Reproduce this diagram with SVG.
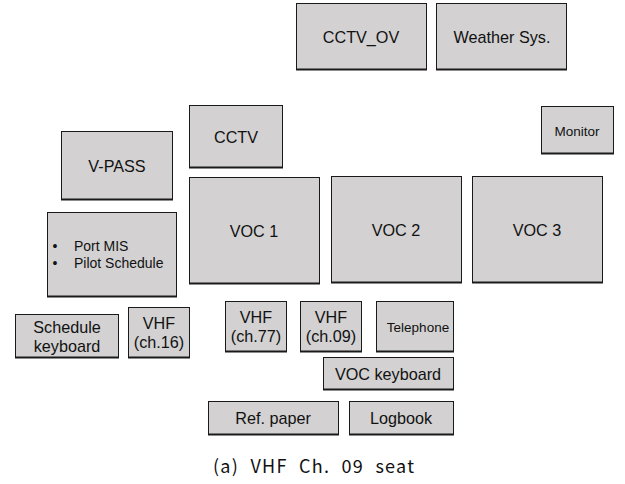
<svg xmlns="http://www.w3.org/2000/svg" width="625" height="484" viewBox="0 0 625 484">
<style>
.b{fill:#d3d1d2;stroke:#1a1a1a;stroke-width:1}
.s{fill:#1a1a1a}
text{font-family:"Liberation Sans",Arial,sans-serif;fill:#111;text-anchor:middle;dominant-baseline:central}
.m{font-size:16.2px}
.sm{font-size:13.5px}
.pm{font-size:14px}
.cap{font-family:"Noto Sans CJK KR","DejaVu Sans",sans-serif;font-size:18px;font-weight:400;word-spacing:6px}
</style>
<rect width="625" height="484" fill="#fff"/>
<g id="cctv_ov"><rect class="s" x="296" y="4.5" width="131" height="66"/><rect class="b" x="296.5" y="3.5" width="130" height="65.5"/><text class="m" x="361" y="37">CCTV_OV</text></g>
<g id="weather"><rect class="s" x="436" y="4.5" width="131" height="66"/><rect class="b" x="436.5" y="3.5" width="130" height="65.5"/><text class="m" x="502" y="37">Weather Sys.</text></g>
<g id="monitor"><rect class="s" x="541" y="107.5" width="73" height="47"/><rect class="b" x="541.5" y="106.5" width="72" height="46.5"/><text class="sm" x="577" y="131">Monitor</text></g>
<g id="cctv"><rect class="s" x="189" y="106.5" width="94" height="62"/><rect class="b" x="189.5" y="105.5" width="93" height="61.5"/><text class="m" x="236" y="137">CCTV</text></g>
<g id="vpass"><rect class="s" x="61" y="132.5" width="112" height="68"/><rect class="b" x="61.5" y="131.5" width="111" height="67.5"/><text class="m" x="117" y="166">V-PASS</text></g>
<g id="portmis"><rect class="s" x="47" y="213.5" width="130" height="84"/><rect class="b" x="47.5" y="212.5" width="129" height="83.5"/>
<text class="pm" x="55" y="246">•</text><text class="pm" x="74" y="246" style="text-anchor:start">Port MIS</text>
<text class="pm" x="55" y="263">•</text><text class="pm" x="74" y="263" style="text-anchor:start">Pilot Schedule</text></g>
<g id="voc1"><rect class="s" x="189" y="178.5" width="131" height="106"/><rect class="b" x="189.5" y="177.5" width="130" height="105.5"/><text class="m" x="254" y="231">VOC 1</text></g>
<g id="voc2"><rect class="s" x="331" y="177.5" width="131" height="106"/><rect class="b" x="331.5" y="176.5" width="130" height="105.5"/><text class="m" x="396" y="230">VOC 2</text></g>
<g id="voc3"><rect class="s" x="472" y="177.5" width="131" height="106"/><rect class="b" x="472.5" y="176.5" width="130" height="105.5"/><text class="m" x="537" y="230">VOC 3</text></g>
<g id="schedkb"><rect class="s" x="15" y="315.5" width="104" height="43"/><rect class="b" x="15.5" y="314.5" width="103" height="42.5"/><text class="m" x="67" y="327">Schedule</text><text class="m" x="67" y="346">keyboard</text></g>
<g id="vhf16"><rect class="s" x="128" y="308.5" width="62" height="50"/><rect class="b" x="128.5" y="307.5" width="61" height="49.5"/><text class="m" x="159" y="323">VHF</text><text class="m" x="159" y="342">(ch.16)</text></g>
<g id="vhf77"><rect class="s" x="225" y="302.5" width="62" height="50"/><rect class="b" x="225.5" y="301.5" width="61" height="49.5"/><text class="m" x="256" y="317">VHF</text><text class="m" x="256" y="336">(ch.77)</text></g>
<g id="vhf09"><rect class="s" x="300" y="302.5" width="62" height="50"/><rect class="b" x="300.5" y="301.5" width="61" height="49.5"/><text class="m" x="331" y="317">VHF</text><text class="m" x="331" y="336">(ch.09)</text></g>
<g id="telephone"><rect class="s" x="376" y="302.5" width="78" height="50"/><rect class="b" x="376.5" y="301.5" width="77" height="49.5"/><text class="sm" x="418" y="327">Telephone</text></g>
<g id="vockb"><rect class="s" x="323" y="358.5" width="131" height="32"/><rect class="b" x="323.5" y="357.5" width="130" height="31.5"/><text class="m" x="388" y="374">VOC keyboard</text></g>
<g id="refpaper"><rect class="s" x="208" y="402.5" width="131" height="33"/><rect class="b" x="208.5" y="401.5" width="130" height="32.5"/><text class="m" x="273" y="418">Ref. paper</text></g>
<g id="logbook"><rect class="s" x="349" y="402.5" width="105" height="33"/><rect class="b" x="349.5" y="401.5" width="104" height="32.5"/><text class="m" x="401" y="418">Logbook</text></g>
<g id="connectors"></g>
<text class="cap" x="313.5" y="465" textLength="201" lengthAdjust="spacing">(a) VHF Ch. 09 seat</text>
</svg>
